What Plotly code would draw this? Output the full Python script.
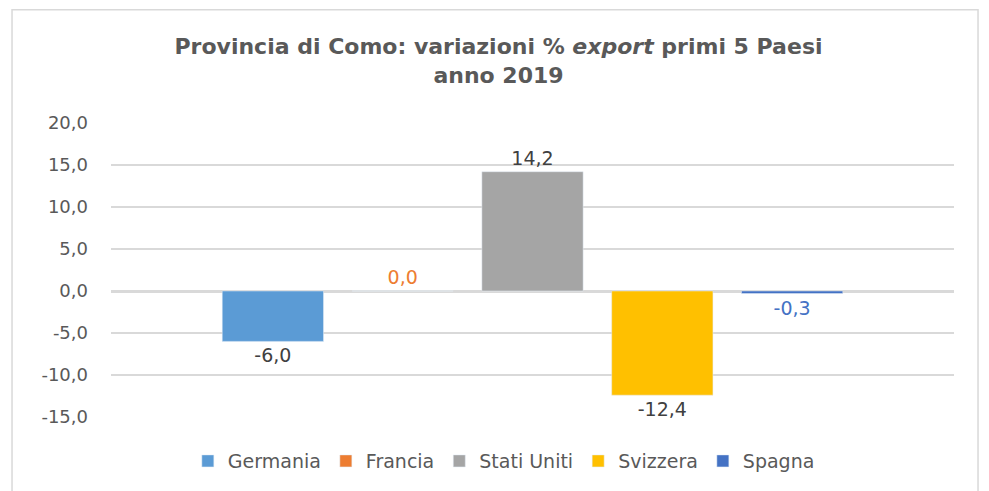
import plotly.graph_objects as go

paesi = ["Germania", "Francia", "Stati Uniti", "Svizzera", "Spagna"]
variazioni = [-6.0, 0.0, 14.2, -12.4, -0.3]
colori = ["#5B9BD5", "#ED7D31", "#A5A5A5", "#FFC000", "#4472C4"]
colori_etichette = ["#404040", "#ED7D31", "#404040", "#404040", "#4472C4"]
categoria = ["2019"]
tick_y = [-15, -10, -5, 0, 5, 10, 15, 20]


def formato(v):
    # virgola decimale e trattino semplice come in Excel
    return f"{v:.1f}".replace(".", ",")


fig = go.Figure()
for i in range(len(paesi)):
    fig.add_trace(go.Bar(x = categoria, y = [variazioni[i]], name = paesi[i],
                         marker_color = colori[i],
                         text = [formato(variazioni[i])], texttemplate = "%{text}",
                         textposition = "outside", cliponaxis = False,
                         textfont = dict(color = colori_etichette[i], size = 19)))

# cornice grigia attorno al grafico, come in Excel
fig.add_shape(type = "rect", xref = "paper", yref = "paper",
              x0 = -0.1174, x1 = 1.0285, y0 = -0.30, y1 = 1.385,
              line = dict(color = "#D9D9D9", width = 1.5))

# la pagina ha un margine di 8px, quindi la figura e' un po' piu' piccola
fig.update_layout(
    width = 981, height = 483,
    margin = dict(l = 103, r = 35, t = 115, b = 73),
    paper_bgcolor = "white", plot_bgcolor = "white",
    font = dict(family = "DejaVu Sans", color = "#595959"),
    title = dict(text = "Provincia di Como: variazioni % <i>export</i> primi 5 Paesi<br>anno 2019",
                 x = 0.5, xanchor = "center", y = 0.904, yanchor = "middle",
                 font = dict(size = 22, color = "#595959", family = "DejaVu Sans", weight = "bold")),
    barmode = "group", bargap = 0.23, bargroupgap = 0.22,
    showlegend = True,
    legend = dict(orientation = "h", x = 0.466, xanchor = "center", y = -0.146, yanchor = "middle",
                  font = dict(size = 19, color = "#595959"), itemwidth = 30),
)
fig.update_xaxes(showticklabels = False, showgrid = False, showline = False, zeroline = False)
fig.update_yaxes(range = [-15, 20], tickvals = tick_y, ticktext = [formato(t) for t in tick_y],
                 showgrid = True, gridcolor = "#D9D9D9", gridwidth = 1.5,
                 zeroline = True, zerolinecolor = "#D9D9D9", zerolinewidth = 3,
                 showline = False, ticks = "", ticklabelstandoff = 22,
                 tickfont = dict(size = 18, color = "#595959"))

fig.write_html("out.html")
